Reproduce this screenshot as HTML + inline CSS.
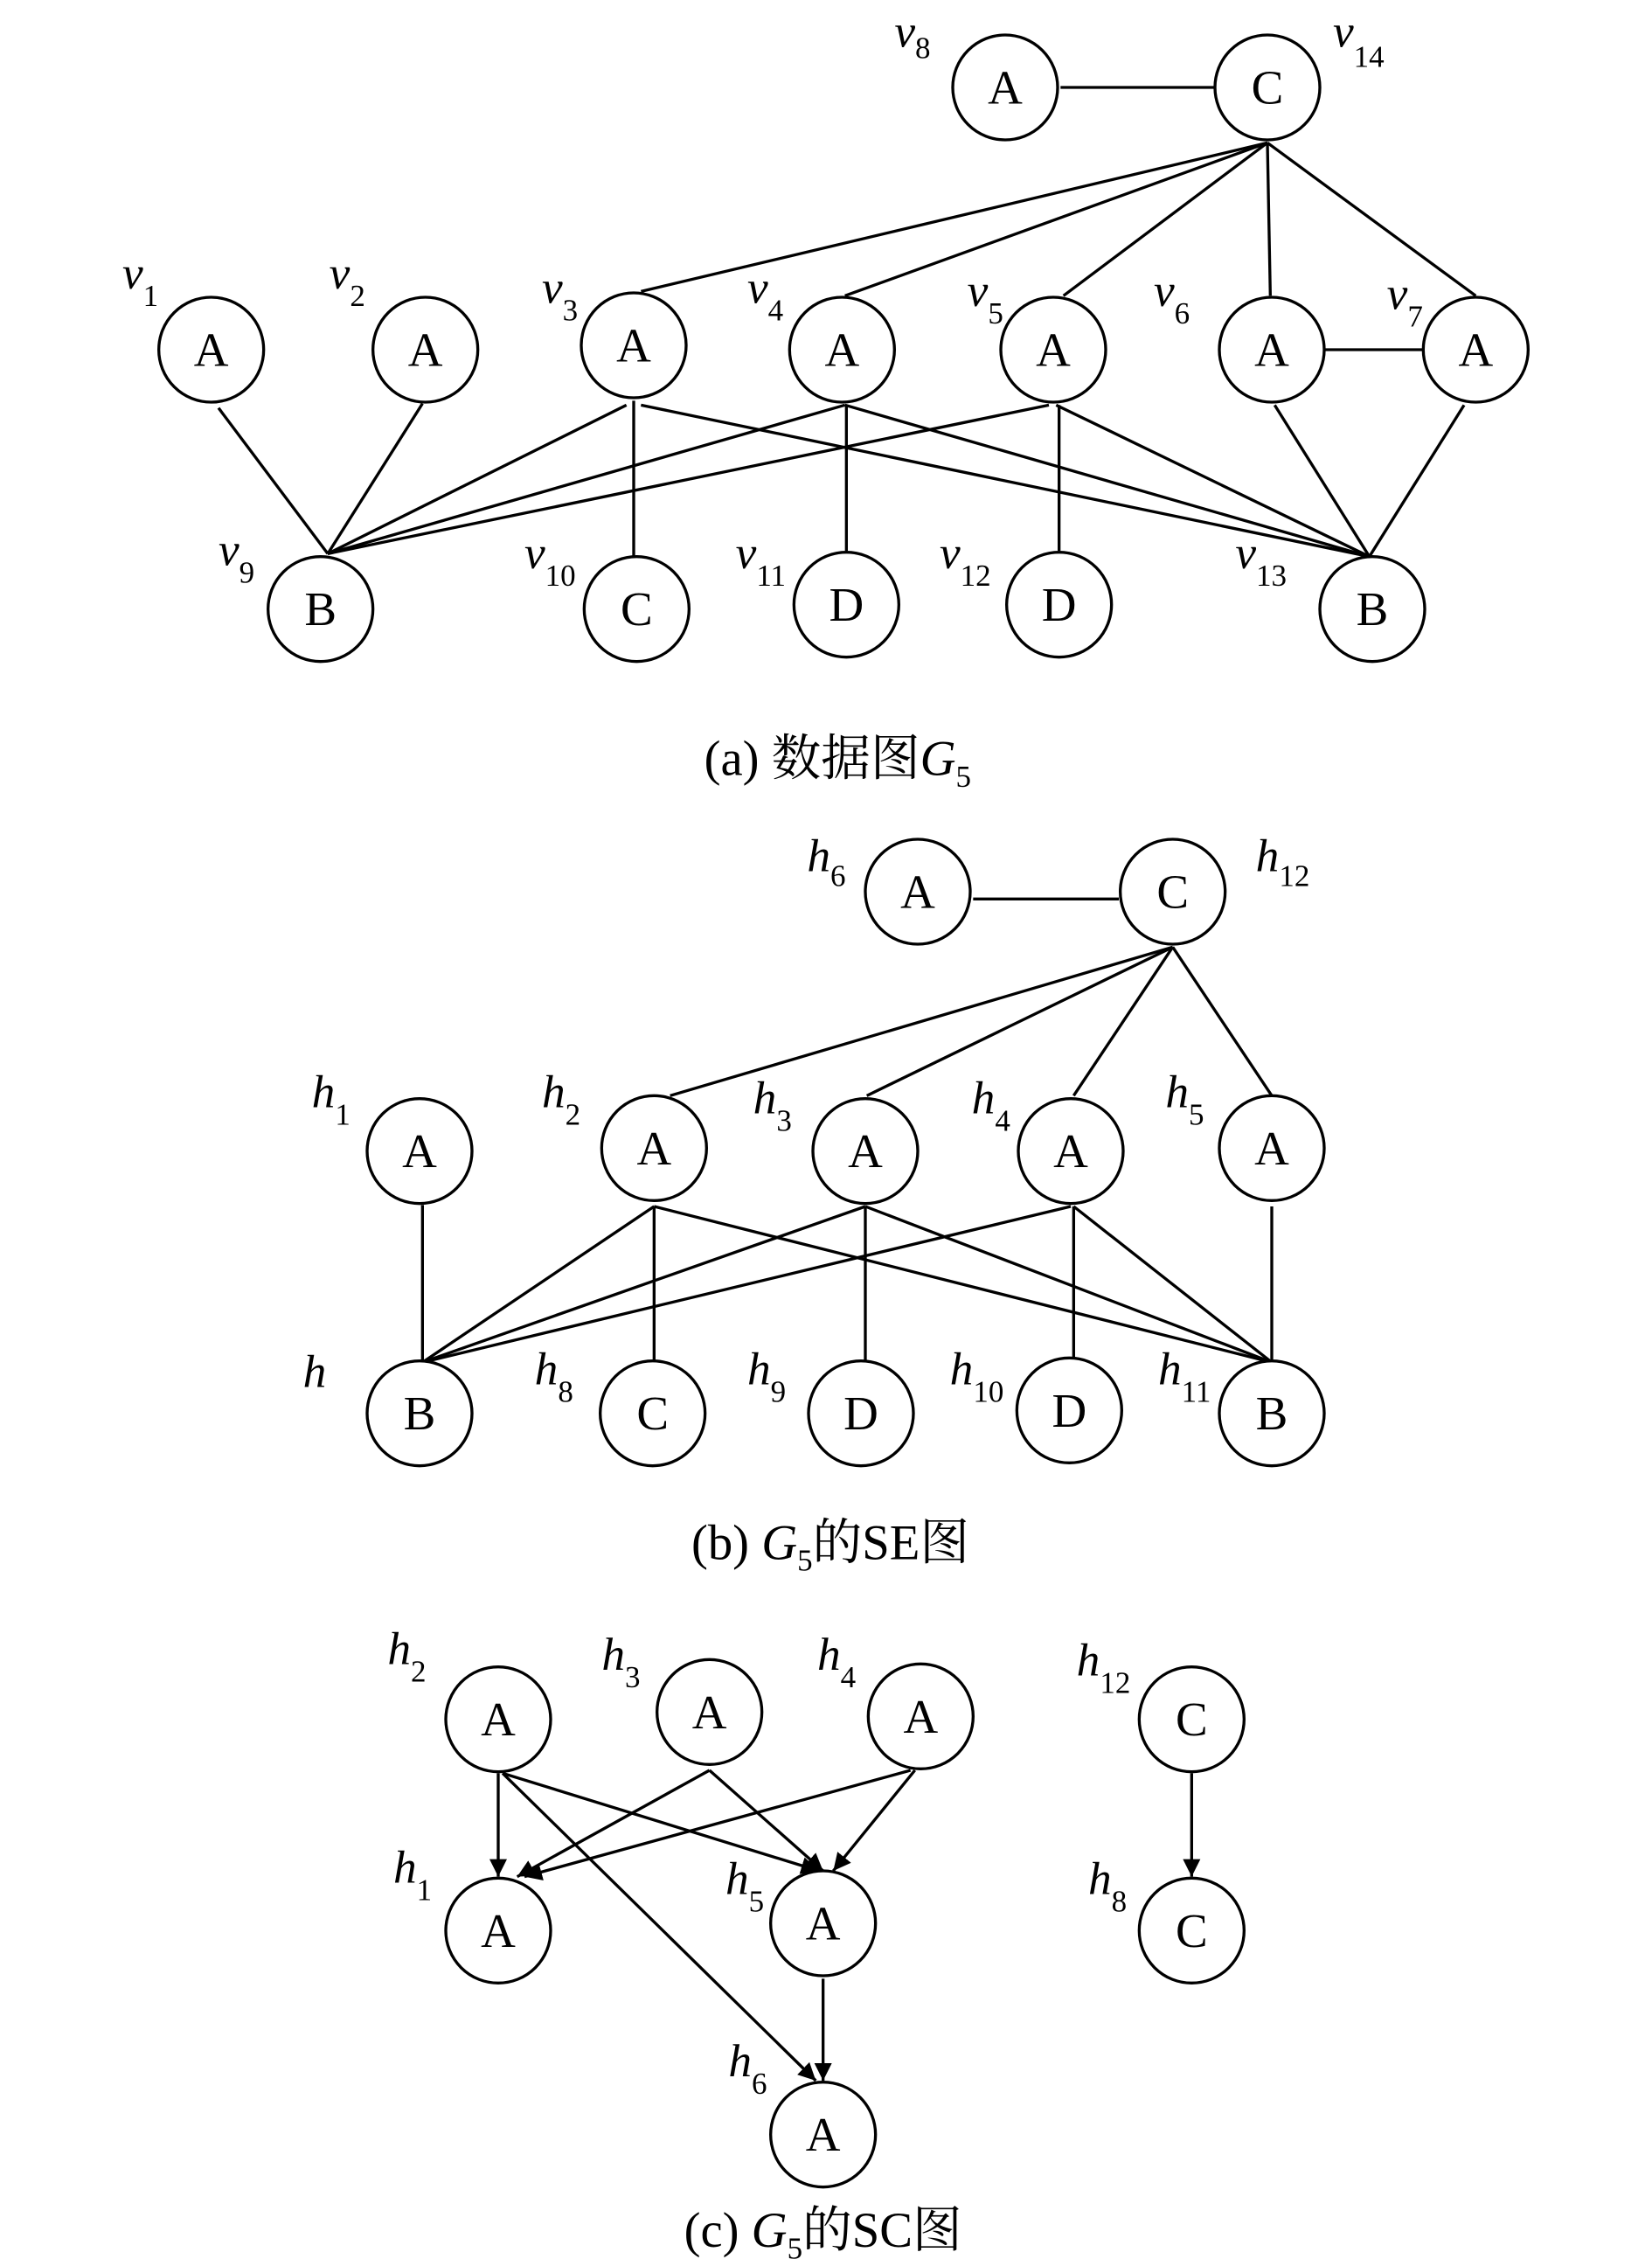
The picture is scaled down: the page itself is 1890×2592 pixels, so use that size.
<!DOCTYPE html>
<html><head><meta charset="utf-8"><style>html,body{margin:0;padding:0;background:#fff}svg{display:block}
text{font-family:"Liberation Serif","Noto Serif CJK SC",serif;fill:#000}
.n{font-size:33px;text-anchor:middle;dominant-baseline:central}
.l{font-size:32px;font-style:italic}
.s{font-size:21px;font-style:normal}
.c{font-size:34px;text-anchor:middle}
</style></head><body>
<svg width="1890" height="2592" viewBox="0 0 1134 1555.2" xmlns="http://www.w3.org/2000/svg">
<defs><marker id="ar" viewBox="0 0 10 10" refX="10" refY="5" markerWidth="12" markerHeight="12" markerUnits="userSpaceOnUse" orient="auto"><path d="M0,0 L10,5 L0,10 z" fill="#000"/></marker></defs>
<g stroke="#000" stroke-width="2" fill="none">
<!-- (a) edges -->
<line x1="728" y1="60" x2="834" y2="60"/>
<line x1="870" y1="98" x2="440" y2="200"/>
<line x1="870" y1="98" x2="580" y2="203"/>
<line x1="870" y1="98" x2="730" y2="203"/>
<line x1="870" y1="98" x2="872" y2="203"/>
<line x1="870" y1="98" x2="1013" y2="203"/>
<line x1="909" y1="240" x2="977" y2="240"/>
<line x1="150" y1="280" x2="225" y2="380"/>
<line x1="290" y1="277" x2="225" y2="380"/>
<line x1="225" y1="380" x2="430" y2="278"/>
<line x1="225" y1="380" x2="580" y2="278"/>
<line x1="225" y1="380" x2="720" y2="278"/>
<line x1="435" y1="275" x2="435" y2="382"/>
<line x1="581" y1="278" x2="581" y2="378"/>
<line x1="727" y1="278" x2="727" y2="378"/>
<line x1="940" y1="382" x2="440" y2="278"/>
<line x1="940" y1="382" x2="580" y2="278"/>
<line x1="940" y1="382" x2="725" y2="278"/>
<line x1="940" y1="382" x2="875" y2="278"/>
<line x1="940" y1="382" x2="1005" y2="278"/>
<!-- (b) edges -->
<line x1="668" y1="617" x2="768" y2="617"/>
<line x1="805" y1="650" x2="460" y2="752"/>
<line x1="805" y1="650" x2="595" y2="752"/>
<line x1="805" y1="650" x2="737" y2="752"/>
<line x1="805" y1="650" x2="873" y2="752"/>
<line x1="290" y1="827" x2="290" y2="935"/>
<line x1="290" y1="935" x2="449" y2="828"/>
<line x1="290" y1="935" x2="594" y2="828"/>
<line x1="290" y1="935" x2="735" y2="828"/>
<line x1="449" y1="828" x2="449" y2="935"/>
<line x1="594" y1="828" x2="594" y2="935"/>
<line x1="737" y1="828" x2="737" y2="932"/>
<line x1="873" y1="935" x2="449" y2="828"/>
<line x1="873" y1="935" x2="594" y2="828"/>
<line x1="873" y1="935" x2="737" y2="828"/>
<line x1="873" y1="935" x2="873" y2="828"/>
<!-- (c) arrows -->
<g marker-end="url(#ar)">
<line x1="342" y1="1217" x2="342" y2="1288"/>
<line x1="487" y1="1215" x2="355" y2="1288"/>
<line x1="625" y1="1215" x2="360" y2="1288"/>
<line x1="345" y1="1217" x2="562" y2="1284"/>
<line x1="487" y1="1215" x2="565" y2="1284"/>
<line x1="628" y1="1215" x2="572" y2="1284"/>
<line x1="345" y1="1217" x2="560" y2="1428"/>
<line x1="565" y1="1358" x2="565" y2="1428"/>
<line x1="818" y1="1217" x2="818" y2="1288"/>
</g>
</g>
<g stroke="#000" stroke-width="2" fill="#fff">
<circle cx="690" cy="60" r="36"/><circle cx="870" cy="60" r="36"/>
<circle cx="145" cy="240" r="36"/><circle cx="292" cy="240" r="36"/><circle cx="435" cy="237" r="36"/><circle cx="578" cy="240" r="36"/><circle cx="723" cy="240" r="36"/><circle cx="873" cy="240" r="36"/><circle cx="1013" cy="240" r="36"/>
<circle cx="220" cy="418" r="36"/><circle cx="437" cy="418" r="36"/><circle cx="581" cy="415" r="36"/><circle cx="727" cy="415" r="36"/><circle cx="942" cy="418" r="36"/>
<circle cx="630" cy="612" r="36"/><circle cx="805" cy="612" r="36"/>
<circle cx="288" cy="790" r="36"/><circle cx="449" cy="788" r="36"/><circle cx="594" cy="790" r="36"/><circle cx="735" cy="790" r="36"/><circle cx="873" cy="788" r="36"/>
<circle cx="288" cy="970" r="36"/><circle cx="448" cy="970" r="36"/><circle cx="591" cy="970" r="36"/><circle cx="734" cy="968" r="36"/><circle cx="873" cy="970" r="36"/>
<circle cx="342" cy="1180" r="36"/><circle cx="487" cy="1175" r="36"/><circle cx="632" cy="1178" r="36"/><circle cx="818" cy="1180" r="36"/>
<circle cx="342" cy="1325" r="36"/><circle cx="565" cy="1320" r="36"/><circle cx="565" cy="1465" r="36"/><circle cx="818" cy="1325" r="36"/>
</g>
<g class="n">
<text x="690" y="60">A</text><text x="870" y="60">C</text>
<text x="145" y="240">A</text><text x="292" y="240">A</text><text x="435" y="237">A</text><text x="578" y="240">A</text><text x="723" y="240">A</text><text x="873" y="240">A</text><text x="1013" y="240">A</text>
<text x="220" y="418">B</text><text x="437" y="418">C</text><text x="581" y="415">D</text><text x="727" y="415">D</text><text x="942" y="418">B</text>
<text x="630" y="612">A</text><text x="805" y="612">C</text>
<text x="288" y="790">A</text><text x="449" y="788">A</text><text x="594" y="790">A</text><text x="735" y="790">A</text><text x="873" y="788">A</text>
<text x="288" y="970">B</text><text x="448" y="970">C</text><text x="591" y="970">D</text><text x="734" y="968">D</text><text x="873" y="970">B</text>
<text x="342" y="1180">A</text><text x="487" y="1175">A</text><text x="632" y="1178">A</text><text x="818" y="1180">C</text>
<text x="342" y="1325">A</text><text x="565" y="1320">A</text><text x="565" y="1465">A</text><text x="818" y="1325">C</text>
</g>
<g class="l">
<text x="614" y="32">v<tspan class="s" dy="8">8</tspan></text>
<text x="915" y="32">v<tspan class="s" dy="14">14</tspan></text>
<text x="84" y="198">v<tspan class="s" dy="12">1</tspan></text>
<text x="226" y="198">v<tspan class="s" dy="12">2</tspan></text>
<text x="372" y="208">v<tspan class="s" dy="12">3</tspan></text>
<text x="513" y="208">v<tspan class="s" dy="12">4</tspan></text>
<text x="664" y="210">v<tspan class="s" dy="12">5</tspan></text>
<text x="792" y="210">v<tspan class="s" dy="12">6</tspan></text>
<text x="952" y="212">v<tspan class="s" dy="12">7</tspan></text>
<text x="150" y="388">v<tspan class="s" dy="12">9</tspan></text>
<text x="360" y="390">v<tspan class="s" dy="12">10</tspan></text>
<text x="505" y="390">v<tspan class="s" dy="12">11</tspan></text>
<text x="645" y="390">v<tspan class="s" dy="12">12</tspan></text>
<text x="848" y="390">v<tspan class="s" dy="12">13</tspan></text>
<text x="554" y="598">h<tspan class="s" dy="10">6</tspan></text>
<text x="862" y="598">h<tspan class="s" dy="10">12</tspan></text>
<text x="214" y="760">h<tspan class="s" dy="12">1</tspan></text>
<text x="372" y="760">h<tspan class="s" dy="12">2</tspan></text>
<text x="517" y="764">h<tspan class="s" dy="12">3</tspan></text>
<text x="667" y="764">h<tspan class="s" dy="12">4</tspan></text>
<text x="800" y="760">h<tspan class="s" dy="12">5</tspan></text>
<text x="208" y="952">h</text>
<text x="367" y="950">h<tspan class="s" dy="12">8</tspan></text>
<text x="513" y="950">h<tspan class="s" dy="12">9</tspan></text>
<text x="652" y="950">h<tspan class="s" dy="12">10</tspan></text>
<text x="795" y="950">h<tspan class="s" dy="12">11</tspan></text>
<text x="266" y="1142">h<tspan class="s" dy="12">2</tspan></text>
<text x="413" y="1146">h<tspan class="s" dy="12">3</tspan></text>
<text x="561" y="1146">h<tspan class="s" dy="12">4</tspan></text>
<text x="739" y="1150">h<tspan class="s" dy="12">12</tspan></text>
<text x="270" y="1292">h<tspan class="s" dy="12">1</tspan></text>
<text x="498" y="1300">h<tspan class="s" dy="12">5</tspan></text>
<text x="747" y="1300">h<tspan class="s" dy="12">8</tspan></text>
<text x="500" y="1425">h<tspan class="s" dy="12">6</tspan></text>
</g>
<g class="c">
<text x="575" y="532">(a) 数据图<tspan font-style="italic">G</tspan><tspan class="s" dy="8">5</tspan></text>
<text x="570" y="1070">(b) <tspan font-style="italic">G</tspan><tspan class="s" dy="8">5</tspan><tspan dy="-8">的SE图</tspan></text>
<text x="565" y="1542">(c) <tspan font-style="italic">G</tspan><tspan class="s" dy="8">5</tspan><tspan dy="-8">的SC图</tspan></text>
</g>
</svg>
</body></html>
